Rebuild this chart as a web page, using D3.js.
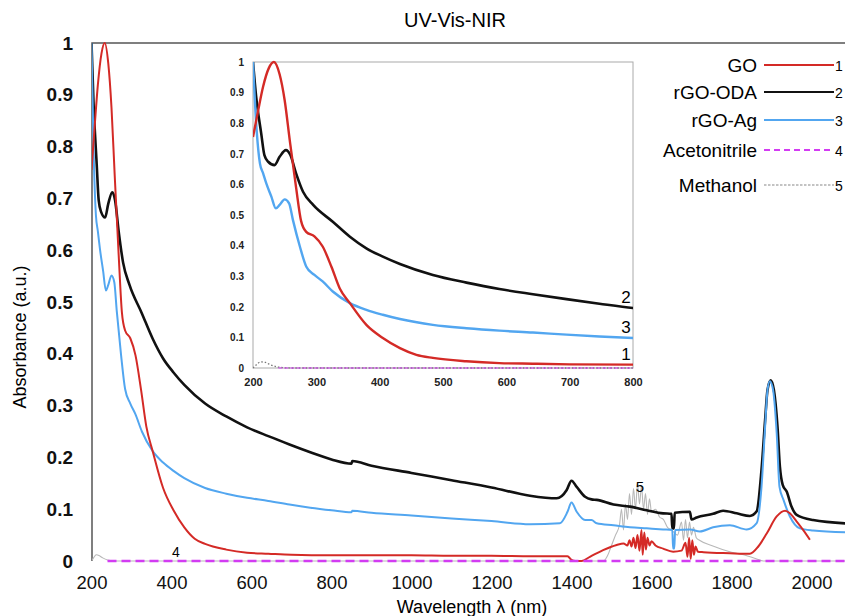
<!DOCTYPE html>
<html lang="en">
<head>
<meta charset="UTF-8">
<title>UV-Vis-NIR</title>
<script src="https://d3js.org/d3.v7.min.js"></script>
<style>
    body { margin: 0; background: #fff; }
    svg { font-family: "Liberation Sans", Arial, sans-serif; display: block; }
    .line { fill: none; stroke-linejoin: round; }
</style>
</head>
<body>
<div id="chart"></div>
<script>
// spectra: [wavelength nm, absorbance]
const goData = [[200,0.755],[208,0.84],[216,0.92],[225,0.98],[233,1.0],[242,0.96],[250,0.875],[258,0.745],
    [268,0.59],[276,0.48],[284,0.445],[297,0.43],[310,0.397],[324,0.33],[337,0.26],[353,0.212],[379,0.141],
    [405,0.098],[432,0.065],[458,0.043],[484,0.033],[537,0.022],[589,0.016],[642,0.014],[700,0.012],
    [800,0.011],[900,0.011],[1000,0.011],[1100,0.010],[1200,0.010],[1300,0.009],[1390,0.009],[1400,0.002],
    [1410,0.0],[1425,0.0],[1446,0.008],[1479,0.021],[1513,0.031],[1530,0.034],[1540,0.03],[1545,0.04],
    [1550,0.028],[1555,0.045],[1560,0.025],[1565,0.05],[1570,0.02],[1575,0.06],[1578,0.012],[1582,0.055],
    [1586,0.022],[1590,0.045],[1595,0.03],[1600,0.038],[1610,0.03],[1629,0.024],[1654,0.018],[1675,0.02],
    [1685,0.035],[1690,0.008],[1694,0.045],[1698,0.004],[1702,0.04],[1706,0.012],[1710,0.028],[1716,0.018],
    [1730,0.017],[1796,0.015],[1846,0.014],[1867,0.028],[1888,0.053],[1913,0.086],[1934,0.097],[1946,0.092],
    [1963,0.076],[1979,0.06],[1996,0.041]];

const odaData = [[200,1.0],[205,0.886],[213,0.766],[218,0.696],[224,0.674],[234,0.663],[242,0.69],[252,0.712],
    [259,0.696],[268,0.636],[279,0.576],[295,0.533],[326,0.478],[353,0.429],[379,0.391],[405,0.364],[432,0.34],
    [484,0.304],[537,0.279],[589,0.258],[642,0.241],[695,0.225],[747,0.21],[800,0.196],[850,0.188],[852,0.193],
    [900,0.184],[1000,0.17],[1100,0.156],[1200,0.142],[1296,0.126],[1363,0.121],[1388,0.137],[1400,0.155],
    [1413,0.143],[1434,0.124],[1450,0.119],[1463,0.118],[1505,0.109],[1546,0.105],[1588,0.098],[1629,0.092],
    [1650,0.091],[1652,0.063],[1656,0.063],[1658,0.093],[1696,0.095],[1700,0.08],[1713,0.084],[1754,0.091],
    [1779,0.097],[1813,0.092],[1846,0.087],[1863,0.096],[1875,0.176],[1884,0.272],[1890,0.33],[1898,0.349],
    [1906,0.33],[1915,0.259],[1921,0.182],[1928,0.147],[1938,0.134],[1950,0.105],[1963,0.089],[2004,0.079],
    [2100,0.072]];

const agData = [[200,1.0],[205,0.8],[211,0.668],[216,0.636],[221,0.603],[229,0.56],[236,0.522],[242,0.533],
    [250,0.551],[257,0.538],[263,0.484],[274,0.397],[284,0.332],[297,0.304],[310,0.283],[326,0.25],[353,0.212],
    [379,0.19],[405,0.174],[432,0.16],[484,0.141],[537,0.13],[589,0.122],[642,0.116],[695,0.109],[747,0.103],
    [800,0.098],[850,0.094],[852,0.097],[900,0.093],[1000,0.088],[1100,0.082],[1200,0.077],[1296,0.071],
    [1371,0.073],[1390,0.095],[1400,0.113],[1413,0.095],[1434,0.079],[1450,0.079],[1463,0.073],[1505,0.069],
    [1546,0.065],[1588,0.063],[1629,0.061],[1652,0.06],[1654,0.024],[1657,0.024],[1659,0.06],[1696,0.061],
    [1721,0.057],[1754,0.065],[1796,0.069],[1838,0.061],[1863,0.073],[1875,0.143],[1884,0.259],[1890,0.33],
    [1896,0.347],[1904,0.33],[1913,0.247],[1920,0.143],[1930,0.118],[1946,0.086],[1971,0.063],[2004,0.059],
    [2100,0.055]];

const acnData = [[240,0.0],[2100,0.0]];

const meohData = [[200,0.0],[205,0.006],[212,0.012],[220,0.01],[228,0.006],[240,0.002],[260,0.0],[1480,0.0],
    [1490,0.01],[1500,0.03],[1510,0.05],[1520,0.07],[1525,0.1],[1530,0.06],[1535,0.11],[1540,0.08],[1545,0.13],
    [1550,0.09],[1555,0.14],[1560,0.1],[1565,0.15],[1570,0.11],[1575,0.145],[1580,0.1],[1585,0.13],[1590,0.09],
    [1595,0.12],[1600,0.095],[1610,0.1],[1620,0.085],[1630,0.08],[1640,0.065],[1650,0.06],[1665,0.05],
    [1675,0.075],[1680,0.04],[1685,0.08],[1690,0.045],[1695,0.075],[1700,0.05],[1705,0.065],[1712,0.045],
    [1720,0.04],[1750,0.03],[1800,0.017],[1830,0.012],[1860,0.005],[1880,0.0],[2100,0.0]];

const meohInset = [[200,0.0],[205,0.01],[212,0.02],[220,0.018],[228,0.01],[240,0.003],[260,0.0],[800,0.0]];

const xTicks = [200,400,600,800,1000,1200,1400,1600,1800,2000];
const yTicks = [0,0.1,0.2,0.3,0.4,0.5,0.6,0.7,0.8,0.9,1];
const insetXTicks = [200,300,400,500,600,700,800];

const seriesNames = ["GO","rGO-ODA","rGO-Ag","Acetonitrile","Methanol"];
const seriesNums = ["1","2","3","4","5"];

const colors = { go: "#d42a26", oda: "#111", ag: "#52a6f0", acn: "#d23cf2", meoh: "#9a9a9a" };

const width = 845, height = 616;
const svg = d3.select("#chart").append("svg").attr("width", width).attr("height", height);

// main plot
const x = d3.scaleLinear().domain([200, 2100]).range([91.5, 851.5]);
const y = d3.scaleLinear().domain([0, 1]).range([561, 43]);

svg.append("clipPath").attr("id", "mainClip")
    .append("rect").attr("x", 92).attr("y", 40).attr("width", width - 92).attr("height", 530);

svg.append("text").attr("x", 455).attr("y", 27).attr("text-anchor", "middle")
    .style("font-size", "20px").text("UV-Vis-NIR");

svg.append("text")
    .attr("transform", "translate(26,337) rotate(-90)")
    .attr("text-anchor", "middle").style("font-size", "18px")
    .text("Absorbance (a.u.)");

svg.append("text").attr("x", 472).attr("y", 613).attr("text-anchor", "middle")
    .style("font-size", "18px").text("Wavelength λ (nm)");

const yAxis = svg.append("g").attr("transform", "translate(92,0)")
    .call(d3.axisLeft(y).tickValues(yTicks).tickSize(0).tickPadding(19).tickFormat(d => String(d)));
yAxis.select(".domain").remove();
yAxis.selectAll("text").style("font-size", "19px").style("font-weight", "bold").attr("fill", "#111");

const xAxis = svg.append("g").attr("transform", "translate(0,561)")
    .call(d3.axisBottom(x).tickValues(xTicks).tickSize(0).tickPadding(15).tickFormat(d => String(d)));
xAxis.select(".domain").remove();
xAxis.selectAll("text").style("font-size", "18.5px").attr("fill", "#111");

// frame (top and left)
svg.append("path").attr("d", `M92,561V43H${width}`).attr("fill", "none")
    .attr("stroke", "#555").attr("stroke-width", 1.5);

const line = d3.line().x(d => x(d[0])).y(d => y(d[1])).curve(d3.curveMonotoneX);
const plot = svg.append("g").attr("clip-path", "url(#mainClip)");

plot.append("path").datum(meohData).attr("class", "line").attr("d", line)
    .attr("stroke", "#b8b8b8").attr("stroke-width", 1.1);
plot.append("path").datum(odaData).attr("class", "line").attr("d", line)
    .attr("stroke", colors.oda).attr("stroke-width", 2.6);
plot.append("path").datum(agData).attr("class", "line").attr("d", line)
    .attr("stroke", colors.ag).attr("stroke-width", 2);
plot.append("path").datum(goData).attr("class", "line").attr("d", line)
    .attr("stroke", colors.go).attr("stroke-width", 2);
plot.append("path").datum(acnData).attr("class", "line").attr("d", line)
    .attr("stroke", colors.acn).attr("stroke-width", 2.5).attr("stroke-dasharray", "9,5");

svg.append("text").attr("x", 176).attr("y", 557).attr("text-anchor", "middle")
    .style("font-size", "14px").text("4");
svg.append("text").attr("x", 640).attr("y", 492).attr("text-anchor", "middle")
    .style("font-size", "15px").text("5");

// inset 200-800 nm
const xi = d3.scaleLinear().domain([200, 800]).range([253, 633]);
const yi = d3.scaleLinear().domain([0, 1]).range([368, 62]);

svg.append("clipPath").attr("id", "insetClip")
    .append("rect").attr("x", 253).attr("y", 60).attr("width", 380).attr("height", 310);

svg.append("rect").attr("x", 253).attr("y", 62).attr("width", 380).attr("height", 306)
    .attr("fill", "#fff").attr("stroke", "#aaa").attr("stroke-width", 1);

const yiAxis = svg.append("g").attr("transform", "translate(253,0)")
    .call(d3.axisLeft(yi).tickValues(yTicks).tickSize(0).tickPadding(9).tickFormat(d => String(d)));
yiAxis.select(".domain").remove();
yiAxis.selectAll("text").style("font-size", "10px").style("font-weight", "bold").attr("fill", "#222");

const xiAxis = svg.append("g").attr("transform", "translate(0,368)")
    .call(d3.axisBottom(xi).tickValues(insetXTicks).tickSize(0).tickPadding(10).tickFormat(d => String(d)));
xiAxis.select(".domain").remove();
xiAxis.selectAll("text").style("font-size", "11px").style("font-weight", "bold").attr("fill", "#222");

const lineI = d3.line().x(d => xi(d[0])).y(d => yi(d[1])).curve(d3.curveMonotoneX);
const inset = svg.append("g").attr("clip-path", "url(#insetClip)");

inset.append("path").datum(meohInset).attr("class", "line").attr("d", lineI)
    .attr("stroke", "#777").attr("stroke-width", 1.3).attr("stroke-dasharray", "1.5,2");
inset.append("path").datum(odaData).attr("class", "line").attr("d", lineI)
    .attr("stroke", colors.oda).attr("stroke-width", 2.6);
inset.append("path").datum(agData).attr("class", "line").attr("d", lineI)
    .attr("stroke", colors.ag).attr("stroke-width", 2.4);
inset.append("path").datum(goData).attr("class", "line").attr("d", lineI)
    .attr("stroke", colors.go).attr("stroke-width", 2.4);
inset.append("path").datum(acnData).attr("class", "line").attr("d", lineI)
    .attr("stroke", colors.acn).attr("stroke-width", 1.2).attr("stroke-dasharray", "4,2");

const insetNums = [["2", 0.196], ["3", 0.098], ["1", 0.011]];
insetNums.forEach(([t, v]) => {
    svg.append("text").attr("x", 626).attr("y", yi(v) - 5).attr("text-anchor", "middle")
        .style("font-size", "17px").text(t);
});

// legend
const legendY = [65, 92, 120, 150, 185];
const legendStyle = [
    { c: colors.go, w: 2, dash: null },
    { c: colors.oda, w: 2, dash: null },
    { c: colors.ag, w: 2, dash: null },
    { c: colors.acn, w: 2, dash: "6,4" },
    { c: "#888", w: 1.2, dash: "2.5,1.5" }
];
const legend = svg.append("g");
seriesNames.forEach((name, i) => {
    const ly = legendY[i];
    legend.append("text").attr("x", 757).attr("y", ly).attr("dy", "0.35em")
        .attr("text-anchor", "end").style("font-size", "19px").text(name);
    legend.append("line").attr("x1", 764).attr("x2", 834).attr("y1", ly).attr("y2", ly)
        .attr("stroke", legendStyle[i].c).attr("stroke-width", legendStyle[i].w)
        .attr("stroke-dasharray", legendStyle[i].dash);
    legend.append("text").attr("x", 835).attr("y", ly + 1).attr("dy", "0.35em")
        .style("font-size", "14px").text(seriesNums[i]);
});
</script>
</body>
</html>
